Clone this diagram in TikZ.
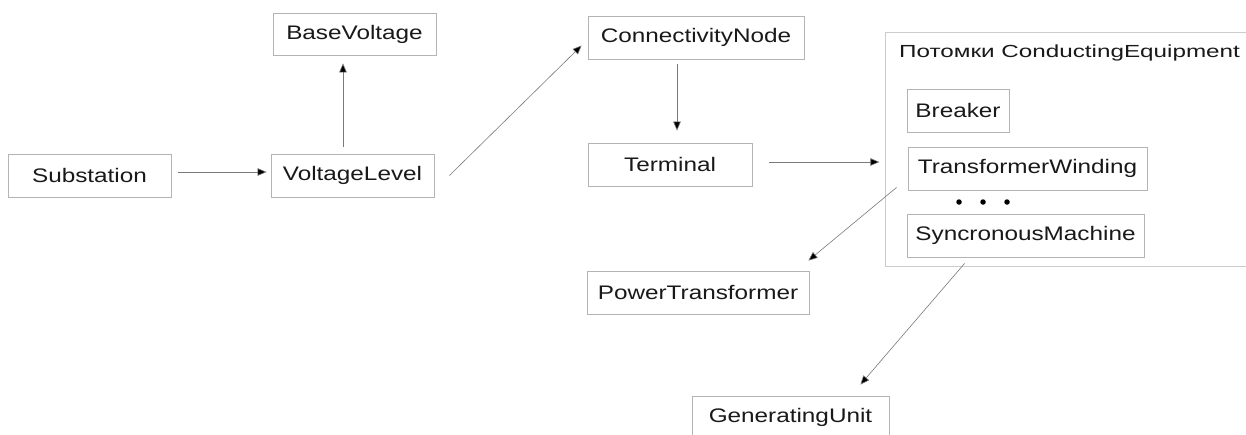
\documentclass[tikz,border=0pt]{standalone}
\usepackage{fontspec}
\setmainfont{Liberation Sans}[FakeStretch=1.24]
\newfontfamily\titlefont{Liberation Sans}[FakeStretch=1.385]
\usetikzlibrary{arrows.meta}
\definecolor{boxline}{HTML}{B4B4B4}
\definecolor{grpline}{HTML}{CCCCCC}
\definecolor{linkline}{HTML}{7A7A7A}
\tikzset{
  cls/.style={draw=boxline, line width=0.8pt, inner sep=0pt, fill=white,
    font=\fontsize{19.6}{22}\selectfont, text=black!90},
  conn/.style={draw=linkline, line width=0.6pt,
    -{Triangle[length=9pt,width=7.5pt,fill=black]}},
  dot/.style={circle, fill=black, inner sep=0pt, minimum size=5.5pt}
}
\begin{document}
\begin{tikzpicture}[x=1pt,y=-1pt]
\clip (0,0) rectangle (1246,434);
\fill[white] (0,0) rectangle (1246,434);

% group of ConductingEquipment descendants
\node[draw=grpline, line width=0.8pt, inner sep=0pt, minimum width=375pt,
  minimum height=234pt, anchor=north west] (grp) at (885,32) {};
\node[anchor=base west, inner sep=0pt, font=\titlefont\fontsize{17.5}{20}\selectfont, text=black!90]
  (grptitle) at (899,57) {Потомки ConductingEquipment};

% classes
\node[cls, minimum width=163pt, minimum height=43pt] (sub)  at (89.5,175.5) {Substation};
\node[cls, minimum width=163pt, minimum height=43pt] (vl)   at (352.5,175.5) {VoltageLevel};
\node[cls, minimum width=163pt, minimum height=42pt] (bv)   at (354.5,34) {BaseVoltage};
\node[cls, minimum width=216pt, minimum height=43pt] (cn)   at (696,37.5) {ConnectivityNode};
\node[cls, minimum width=164pt, minimum height=43pt] (term) at (670,164.5) {Terminal};
\node[cls, minimum width=102pt, minimum height=43pt] (brk)  at (958,110.5) {Breaker};
\node[cls, minimum width=239pt, minimum height=43pt] (tw)   at (1027.5,168.5) {TransformerWinding};
\node[cls, minimum width=237pt, minimum height=43pt] (sm)   at (1025.5,235.5) {SyncronousMachine};
\node[cls, minimum width=222pt, minimum height=43pt] (pt)   at (698,292.5) {PowerTransformer};
\node[cls, minimum width=197pt, minimum height=43pt] (gu)   at (790.5,417.5) {GeneratingUnit};

% ellipsis between the listed descendants
\node[dot] (d1) at (959,202) {};
\node[dot] (d2) at (983,202) {};
\node[dot] (d3) at (1007,202) {};

% associations
\draw[conn] ([shift={(7pt,3.5pt)}]sub.east) -- ([shift={(-4pt,3.5pt)}]vl.west);
\draw[conn] ([shift={(-9.5pt,7pt)}]vl.north) -- ([shift={(-11.5pt,-8pt)}]bv.south);
\draw[conn] ([shift={(15pt,0pt)}]vl.east) -- ([shift={(-6pt,-8pt)}]cn.west);
\draw[conn] ([shift={(-19pt,-5pt)}]cn.south) -- ([shift={(7pt,12pt)}]term.north);
\draw[conn] ([shift={(17pt,2.5pt)}]term.east) -- ([shift={(127pt,2.5pt)}]term.east);
\draw[conn] ([shift={(-11pt,3pt)}]tw.south west) -- ([shift={(-1pt,10pt)}]pt.north east);
\draw[conn] ([shift={(58pt,-6pt)}]sm.south west) -- ([shift={(-29pt,11pt)}]gu.north east);
\end{tikzpicture}
\end{document}
